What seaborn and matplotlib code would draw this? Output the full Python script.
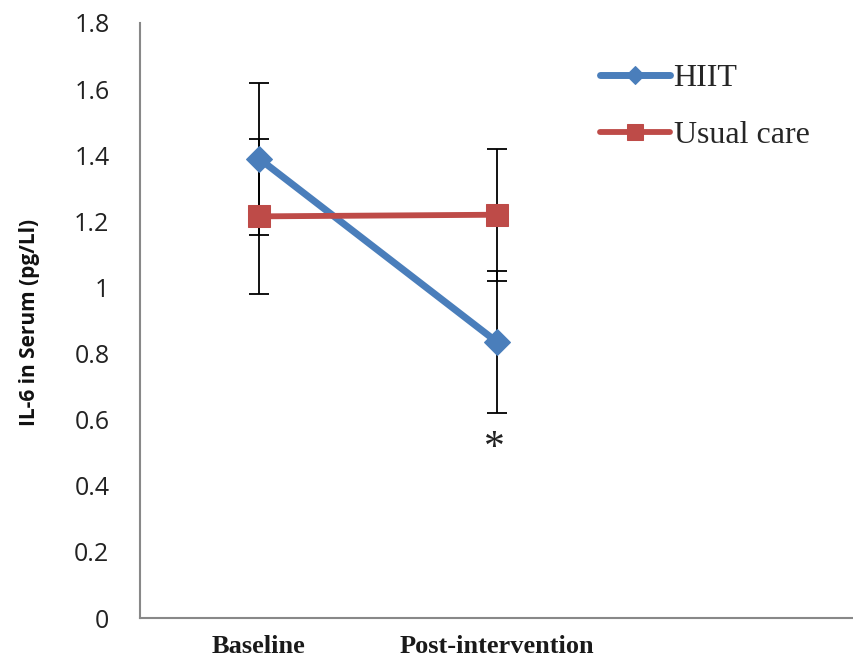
import matplotlib
matplotlib.use("Agg")
import matplotlib.pyplot as plt
import numpy as np
import pandas as pd
import seaborn as sns

# ---- data ----
categories = ["Baseline", "Post-intervention", ""]
groups = ["HIIT", "Usual care"]
hiit_mean = [1.39, 0.835]
hiit_err = [0.23, 0.215]
usual_mean = [1.215, 1.22]
usual_err = [0.235, 0.20]
y_ticks = [0, 0.2, 0.4, 0.6, 0.8, 1.0, 1.2, 1.4, 1.6, 1.8]
y_tick_labels = ["0", "0.2", "0.4", "0.6", "0.8", "1", "1.2", "1.4", "1.6", "1.8"]
y_label = "IL-6 in Serum (pg/Ll)"
star_text = "*"
star_category = "Post-intervention"
star_value = 0.53

colors = {"HIIT": "#4A7EBB", "Usual care": "#BE4B48"}
markers = {"HIIT": "D", "Usual care": "s"}
msizes = {"HIIT": 13, "Usual care": 16}
lwidths = {"HIIT": 5.0, "Usual care": 4.2}

rows = []
for g, means, errs in [("HIIT", hiit_mean, hiit_err), ("Usual care", usual_mean, usual_err)]:
    for i, (m, e) in enumerate(zip(means, errs)):
        rows.append({"group": g, "time": categories[i], "pos": i, "value": m, "err": e})
df = pd.DataFrame(rows)

sns.set_theme(style="white")
plt.rcParams["font.family"] = ["Open Sans", "DejaVu Sans"]

fig = plt.figure(figsize=(8.54, 6.61), dpi=100)
ax = fig.add_axes([140 / 854, 1 - 618 / 661, 1 - 140 / 854, (618 - 23) / 661])

# error bars (behind lines)
for g in groups:
    sub = df[df.group == g]
    ax.errorbar(sub["pos"], sub["value"], yerr=sub["err"], fmt="none",
                ecolor="black", elinewidth=1.3, capsize=7.5, capthick=1.3, zorder=1)

for g in groups:
    sub = df[df.group == g]
    sns.lineplot(data=sub, x="pos", y="value", color=colors[g], marker=markers[g],
                 markersize=msizes[g], markeredgecolor=colors[g], linewidth=lwidths[g],
                 label=g, ax=ax, zorder=3)

ax.annotate(star_text, (categories.index(star_category), star_value),
            xytext=(-2, -4), textcoords="offset points", ha="center", va="center",
            fontsize=30, family="Liberation Serif", color="#222222")

ax.set_xlim(-0.5, 2.5)
ax.set_ylim(0, 1.8)
ax.set_xticks(range(len(categories)))
ax.set_xticklabels(categories, family="Liberation Serif", fontweight="bold", fontsize=19, color="#1a1a1a")
ax.set_yticks(y_ticks)
ax.set_yticklabels(y_tick_labels, fontsize=18, color="#222222")
ax.tick_params(axis="both", length=0)
ax.tick_params(axis="y", pad=22)
ax.tick_params(axis="x", pad=12)
ax.set_xlabel("")
ax.set_ylabel(y_label, fontsize=15, fontweight="bold", color="#111111")
ax.yaxis.set_label_coords(-100 / 714, 0.496)

for s in ["top", "right"]:
    ax.spines[s].set_visible(False)
for s in ["left", "bottom"]:
    ax.spines[s].set_color("#888888")
    ax.spines[s].set_linewidth(1.5)

leg = ax.legend(loc="upper left", bbox_to_anchor=(0.622, 0.958), frameon=False,
                prop={"family": "Liberation Serif", "size": 23}, handlelength=2.2,
                handletextpad=0.1, labelspacing=0.85, markerscale=0.7, borderpad=0)

fig.savefig("out.png", dpi=100)
